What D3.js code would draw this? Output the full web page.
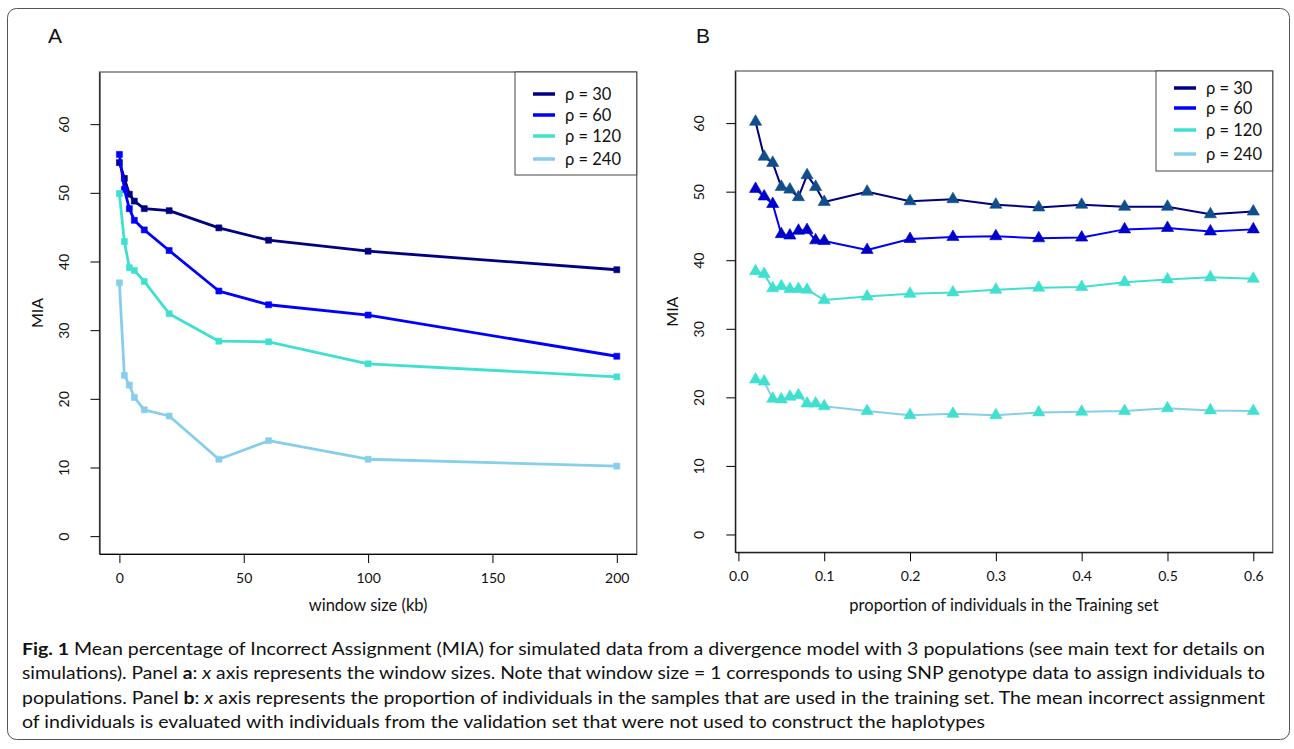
<!DOCTYPE html>
<html>
<head>
<meta charset="utf-8">
<script src="https://cdn.jsdelivr.net/npm/d3@7"></script>
<style>
  body { margin: 0; background: #fff; }
  text { font-family: Lato, "Open Sans", sans-serif; fill: #111; }
</style>
</head>
<body>
<div id="chart"></div>
<script>
// ---- data ----
var seriesNames = ["ρ = 30", "ρ = 60", "ρ = 120", "ρ = 240"];
var lineColors = ["#000080", "#0000ff", "#40e0d0", "#87ceeb"];
var triColors = ["#104e8b", "#0000cd", "#40e0d0", "#40e0d0"];

// panel A: window size (kb)
var windowSizes = [0, 2, 4, 6, 10, 20, 40, 60, 100, 200];
var miaA_rho30  = [54.4, 52.1, 49.8, 48.8, 47.7, 47.4, 44.9, 43.1, 41.5, 38.8];
var miaA_rho60  = [55.6, 50.5, 47.7, 46.0, 44.6, 41.6, 35.7, 33.7, 32.2, 26.2];
var miaA_rho120 = [49.9, 42.9, 39.1, 38.7, 37.1, 32.4, 28.4, 28.3, 25.1, 23.2];
var miaA_rho240 = [36.9, 23.4, 22.0, 20.2, 18.4, 17.5, 11.2, 13.9, 11.2, 10.2];

// panel B: proportion in training set
var proportions = [0.02, 0.03, 0.04, 0.05, 0.06, 0.07, 0.08, 0.09, 0.10,
  0.15, 0.20, 0.25, 0.30, 0.35, 0.40, 0.45, 0.50, 0.55, 0.60];
var miaB_rho30  = [60.2, 55.1, 54.2, 50.7, 50.3, 49.2, 52.4, 50.7, 48.5, 50.0, 48.6, 48.9, 48.1, 47.7, 48.1, 47.8, 47.8, 46.7, 47.1];
var miaB_rho60  = [50.4, 49.3, 48.2, 43.8, 43.6, 44.3, 44.4, 42.9, 42.8, 41.5, 43.1, 43.4, 43.5, 43.2, 43.3, 44.5, 44.7, 44.2, 44.5];
var miaB_rho120 = [38.4, 38.0, 35.9, 36.2, 35.8, 35.8, 35.7, null, 34.2, 34.7, 35.1, 35.3, 35.7, 36.0, 36.1, 36.8, 37.2, 37.5, 37.3];
var miaB_rho240 = [22.6, 22.3, 19.8, 19.7, 20.1, 20.3, 19.1, 19.1, 18.7, 18.0, 17.4, 17.6, 17.4, 17.8, 17.9, 18.0, 18.4, 18.1, 18.0];

var yTicks = [0, 10, 20, 30, 40, 50, 60];
var xTicksA = [0, 50, 100, 150, 200];
var xTicksB = [0, 0.1, 0.2, 0.3, 0.4, 0.5, 0.6];

var captionLines = [
  [["Fig. 1", "b"], [" Mean percentage of Incorrect Assignment (MIA) for simulated data from a divergence model with 3 populations (see main text for details on", ""]],
  [["simulations). Panel ", ""], ["a", "b"], [": ", ""], ["x", "i"], [" axis represents the window sizes. Note that window size = 1 corresponds to using SNP genotype data to assign individuals to", ""]],
  [["populations. Panel ", ""], ["b", "b"], [": ", ""], ["x", "i"], [" axis represents the proportion of individuals in the samples that are used in the training set. The mean incorrect assignment", ""]],
  [["of individuals is evaluated with individuals from the validation set that were not used to construct the haplotypes", ""]]
];
var captionWidths = [1243, 1243, 1243, 963];

// ---- drawing ----
var width = 1294, height = 749;
var svg = d3.select("#chart").append("svg")
  .attr("width", width).attr("height", height);

svg.append("rect")
  .attr("x", 7.5).attr("y", 8.5).attr("width", 1282).attr("height", 731)
  .attr("rx", 9).attr("fill", "none").attr("stroke", "#555");

function panel(opt) {
  var x = d3.scaleLinear().domain(opt.xDomain).range([opt.left, opt.right]);
  var y = d3.scaleLinear().domain([-2.6, 67.6]).range([opt.bottom, opt.top]);
  var g = svg.append("g");

  g.append("rect")
    .attr("x", opt.left).attr("y", opt.top)
    .attr("width", opt.right - opt.left).attr("height", opt.bottom - opt.top)
    .attr("fill", "none").attr("stroke", "#666").attr("stroke-width", 1.3);

  var xa = g.append("g")
    .attr("transform", `translate(0,${opt.bottom})`)
    .call(d3.axisBottom(x).tickValues(opt.xTicks).tickSize(9).tickPadding(10)
      .tickFormat(opt.xFormat).tickSizeOuter(0));
  xa.select(".domain").attr("stroke", "#000");
  xa.selectAll("text").style("font-size", "14px").attr("fill", "#111");

  var ya = g.append("g")
    .attr("transform", `translate(${opt.left},0)`)
    .call(d3.axisLeft(y).tickValues(yTicks).tickSize(9).tickSizeOuter(0));
  ya.select(".domain").attr("stroke", "#000");
  // R style: labels rotated parallel to the axis
  ya.selectAll(".tick text")
    .style("font-size", "14px").attr("fill", "#111")
    .attr("x", 0).attr("y", 0).attr("dy", null)
    .attr("text-anchor", "middle")
    .attr("transform", "translate(-31,0) rotate(-90)");

  g.append("text")
    .attr("x", (opt.left + opt.right) / 2).attr("y", 611)
    .attr("text-anchor", "middle").style("font-size", "16.5px")
    .text(opt.xTitle);

  g.append("text")
    .attr("transform", `translate(${opt.left - 57},${(opt.top + opt.bottom) / 2}) rotate(-90)`)
    .attr("text-anchor", "middle").style("font-size", "16px")
    .text("MIA");

  g.append("text")
    .attr("x", opt.letterX).attr("y", 43)
    .style("font-family", "'Liberation Sans', Arial, sans-serif")
    .style("font-size", "21px")
    .text(opt.letter);

  opt.series.forEach(function(vals, i) {
    var pts = opt.xs.map((v, k) => ({ x: v, y: vals[k] })).filter(d => d.y != null);
    g.append("path")
      .datum(pts)
      .attr("fill", "none")
      .attr("stroke", lineColors[i])
      .attr("stroke-width", opt.lineWidth)
      .attr("stroke-linejoin", "round")
      .attr("d", d3.line().x(d => x(d.x)).y(d => y(d.y)));
    g.selectAll(null).data(pts).enter().append("path")
      .attr("transform", d => `translate(${x(d.x)},${y(d.y)})`)
      .attr("d", d3.symbol(opt.symbol, opt.symbolSize))
      .attr("fill", opt.pointColors[i])
      .attr("stroke", opt.pointColors[i])
      .attr("stroke-width", 0.6);
  });

  // legend
  var lg = g.append("g");
  lg.append("rect")
    .attr("x", opt.legend.x).attr("y", opt.top)
    .attr("width", opt.right - opt.legend.x).attr("height", opt.legend.h)
    .attr("fill", "#fff").attr("stroke", "#444").attr("stroke-width", 1);
  seriesNames.forEach(function(name, i) {
    var ry = opt.top + opt.legend.rows[i];
    lg.append("line")
      .attr("x1", opt.legend.x + 18).attr("x2", opt.legend.x + 40)
      .attr("y1", ry).attr("y2", ry)
      .attr("stroke", lineColors[i]).attr("stroke-width", 3.5);
    lg.append("text")
      .attr("x", opt.legend.x + 50).attr("y", ry + 5.5)
      .style("font-size", "16.5px")
      .text(name);
  });
}

panel({
  left: 99.5, right: 636.7, top: 72, bottom: 554,
  xDomain: [-8, 208], xs: windowSizes, xTicks: xTicksA, xFormat: d3.format("d"),
  xTitle: "window size (kb)", letter: "A", letterX: 48,
  series: [miaA_rho30, miaA_rho60, miaA_rho120, miaA_rho240],
  pointColors: lineColors, symbol: d3.symbolSquare, symbolSize: 36, lineWidth: 2.8,
  legend: { x: 515, h: 103, rows: [22, 43, 64, 87] }
});

panel({
  left: 735.3, right: 1272.7, top: 71, bottom: 552.3,
  xDomain: [-0.0036, 0.6226], xs: proportions, xTicks: xTicksB, xFormat: d3.format(".1f"),
  xTitle: "proportion of individuals in the Training set", letter: "B", letterX: 696,
  series: [miaB_rho30, miaB_rho60, miaB_rho120, miaB_rho240],
  pointColors: triColors, symbol: d3.symbolTriangle, symbolSize: 64, lineWidth: 2,
  legend: { x: 1156, h: 100, rows: [17, 37, 59, 83] }
});

// caption, each line stretched to the width it has in the figure
var cap = svg.append("g");
var capY = [655, 679, 704, 728];
captionLines.forEach(function(segs, i) {
  var t = cap.append("text")
    .attr("x", 22).attr("y", capY[i])
    .style("font-size", "17px")
    .attr("textLength", captionWidths[i])
    .attr("lengthAdjust", "spacingAndGlyphs");
  segs.forEach(function(s) {
    var ts = t.append("tspan").text(s[0]);
    if (s[1] === "b") ts.style("font-weight", "bold");
    if (s[1] === "i") ts.style("font-style", "italic");
  });
});
</script>
</body>
</html>
